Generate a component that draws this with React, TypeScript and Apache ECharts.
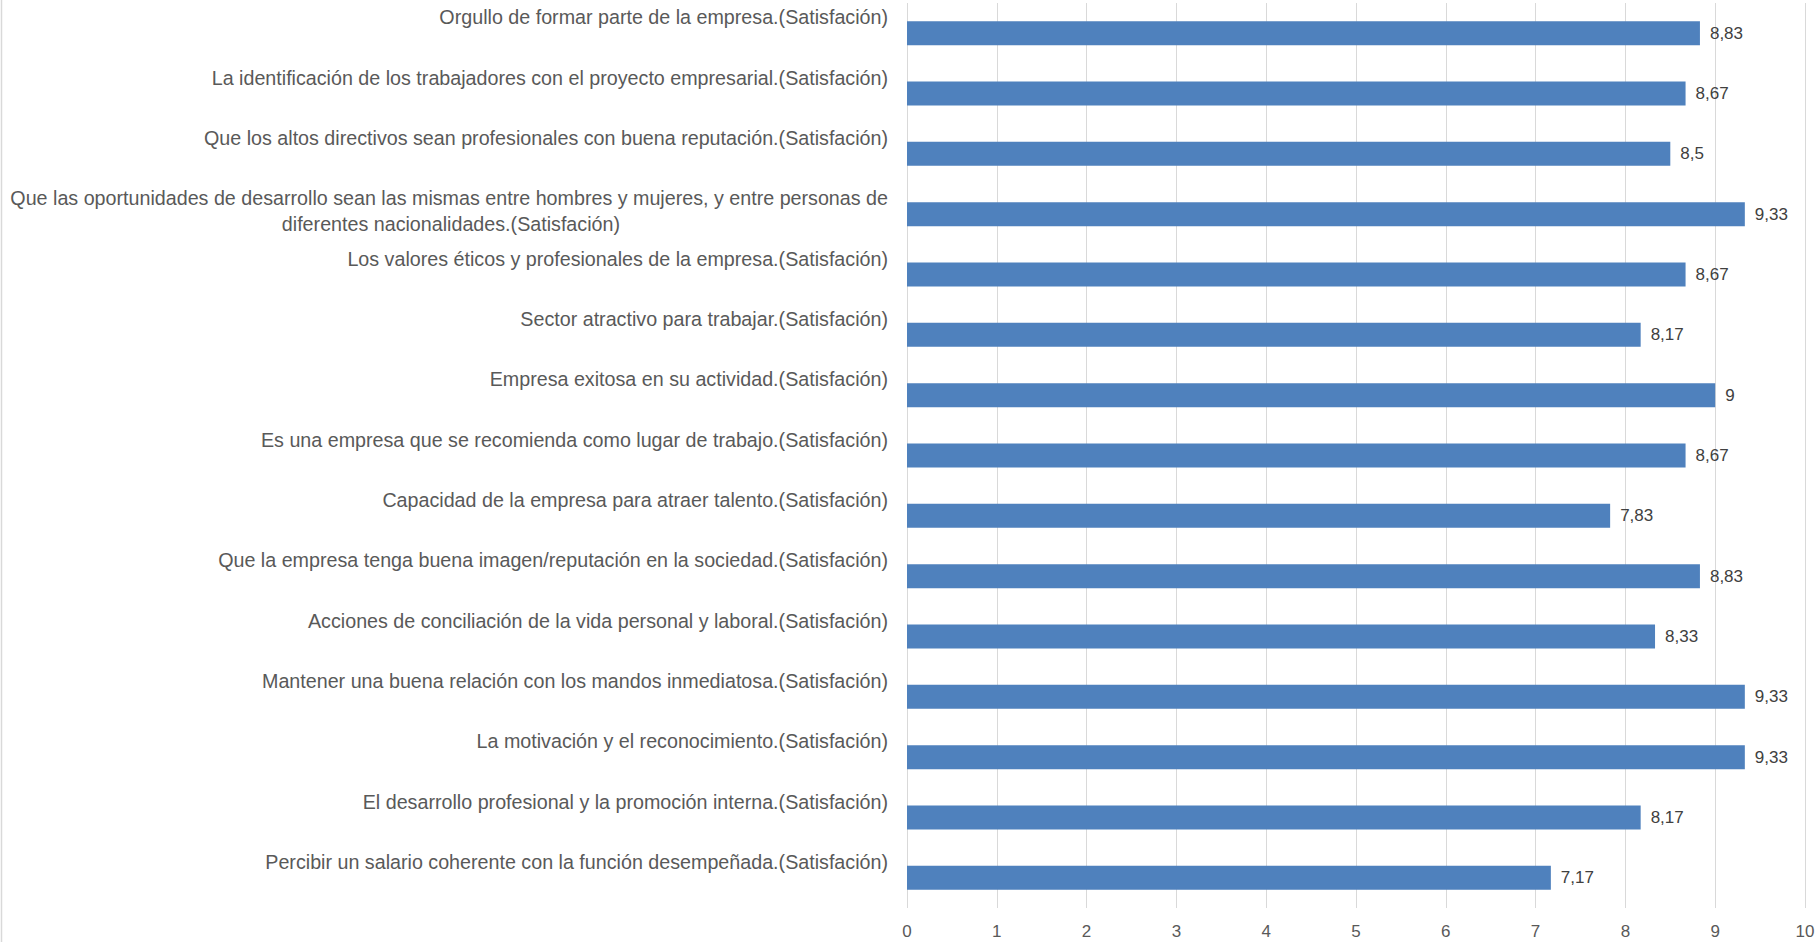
import React, { useEffect, useRef } from "react";
import * as echarts from "echarts";

const categories: string[] = [
  "Orgullo de formar parte de la empresa.(Satisfación)",
  "La identificación de los trabajadores con el proyecto empresarial.(Satisfación)",
  "Que los altos directivos sean profesionales con buena reputación.(Satisfación)",
  "Que las oportunidades de desarrollo sean las mismas entre hombres y mujeres, y entre personas de\ndiferentes nacionalidades.(Satisfación)",
  "Los valores éticos y profesionales de la empresa.(Satisfación)",
  "Sector atractivo para trabajar.(Satisfación)",
  "Empresa exitosa en su actividad.(Satisfación)",
  "Es una empresa que se recomienda como lugar de trabajo.(Satisfación)",
  "Capacidad de la empresa para atraer talento.(Satisfación)",
  "Que la empresa tenga buena imagen/reputación en la sociedad.(Satisfación)",
  "Acciones de conciliación de la vida personal y laboral.(Satisfación)",
  "Mantener una buena relación con los mandos inmediatosa.(Satisfación)",
  "La motivación y el reconocimiento.(Satisfación)",
  "El desarrollo profesional y la promoción interna.(Satisfación)",
  "Percibir un salario coherente con la función desempeñada.(Satisfación)",
];

const values: number[] = [8.83, 8.67, 8.5, 9.33, 8.67, 8.17, 9, 8.67, 7.83, 8.83, 8.33, 9.33, 9.33, 8.17, 7.17];

const FONT = "'Liberation Sans', Arial, sans-serif";

export default function App() {
  const ref = useRef<HTMLDivElement>(null);
  useEffect(() => {
    if (!ref.current) return;
    const chart = echarts.init(ref.current, undefined, { renderer: "svg" });
    chart.setOption({
      animation: false,
      backgroundColor: "#ffffff",
      grid: { left: 907, right: 15, top: 3, bottom: 34, containLabel: false },
      xAxis: {
        type: "value",
        min: 0,
        max: 10,
        interval: 1,
        axisLine: { show: false },
        axisTick: { show: false },
        splitLine: { show: true, lineStyle: { color: "#d9d9d9", width: 1 } },
        axisLabel: { color: "#595959", fontSize: 17, fontFamily: FONT, margin: 15 },
      },
      yAxis: {
        type: "category",
        inverse: true,
        data: categories,
        axisLine: { show: false },
        axisTick: { show: false },
        splitLine: { show: false },
        axisLabel: {
          margin: 19,
          align: "right",
          verticalAlign: "middle",
          padding: [0, 0, 6, 0],
          formatter: (v: string) => {
            const lines = v.split("\n");
            if (lines.length === 1) return `{a|${lines[0]}}\n{a| }`;
            return `{a|${lines[0]}}\n{b|${lines[1]}}`;
          },
          rich: {
            a: { fontSize: 19.7, fontFamily: FONT, color: "#595959", lineHeight: 26 },
            b: { fontSize: 19.7, fontFamily: FONT, color: "#595959", lineHeight: 26, padding: [0, 268, 0, 0] },
          },
        },
      },
      series: [
        {
          type: "bar",
          data: values,
          barWidth: 24,
          itemStyle: { color: "#4f81bd" },
          label: {
            show: true,
            position: "right",
            distance: 10,
            color: "#404040",
            fontSize: 17,
            fontFamily: FONT,
            formatter: (p: any) => String(p.value).replace(".", ","),
          },
        },
      ],
      graphic: [
        {
          type: "line",
          shape: { x1: 1.5, y1: 0, x2: 1.5, y2: 942 },
          style: { stroke: "#d9d9d9", lineWidth: 1.5 },
        },
      ],
    });
    return () => chart.dispose();
  }, []);
  return (
    <div
      ref={ref}
      style={{ position: "fixed", left: 0, top: 0, width: 1820, height: 942, background: "#fff" }}
    />
  );
}
